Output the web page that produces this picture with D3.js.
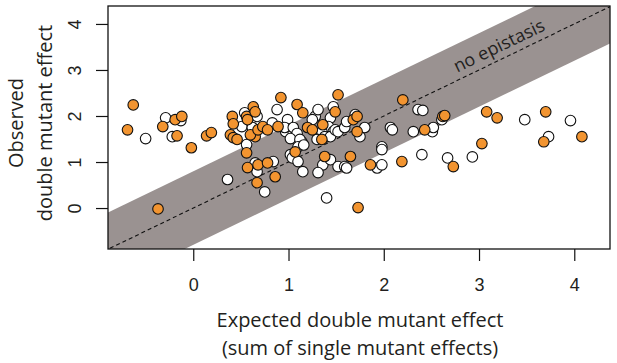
<!DOCTYPE html>
<html>
<head>
<meta charset="utf-8">
<script src="https://cdn.jsdelivr.net/npm/d3@7"></script>
<style>
  body { margin: 0; background: #fff; }
  text { font-family: "Open Sans", "Noto Sans", sans-serif; fill: #231f20; }
  text.tick-label { font-family: "Liberation Sans", Arial, sans-serif; font-size: 18px; }
</style>
</head>
<body>
<script>
// orange points: [expected, observed]
const orangePts = [
  [-0.63, 2.24], [-0.69, 1.70], [-0.32, 1.77], [-0.19, 1.92], [-0.12, 1.99],
  [-0.17, 1.57], [-0.02, 1.31], [0.14, 1.57], [0.19, 1.64], [-0.37, -0.02],
  [0.41, 1.99], [0.42, 1.83], [0.39, 1.59], [0.42, 1.53], [0.46, 1.49],
  [0.56, 1.99], [0.57, 1.92], [0.63, 2.20], [0.65, 2.09], [0.65, 1.55],
  [0.60, 1.59], [0.68, 1.70], [0.73, 1.77], [0.78, 1.70], [0.89, 1.77],
  [0.92, 2.40], [1.09, 2.25], [1.15, 2.07], [1.20, 1.75], [1.25, 1.70],
  [1.36, 1.81], [1.52, 2.46], [1.49, 2.09], [1.35, 1.49], [1.68, 1.92],
  [1.72, 1.99], [1.72, 1.66], [2.20, 2.35], [2.43, 1.70], [2.62, 1.99],
  [2.64, 2.01], [3.08, 2.09], [3.19, 1.96], [3.70, 2.09], [4.08, 1.55],
  [3.68, 1.44], [3.03, 1.40], [2.73, 0.90], [2.19, 1.01], [1.86, 0.94],
  [1.65, 1.12], [1.38, 1.12], [1.07, 1.22], [0.56, 1.20], [0.57, 0.88],
  [0.68, 0.94], [0.78, 0.98], [0.86, 0.68], [0.67, 0.55], [1.73, 0.01]
];

// white points: [expected, observed]
const whitePts = [
  [-0.50, 1.51], [-0.29, 1.96], [-0.13, 1.90], [-0.22, 1.55], [0.51, 1.77],
  [0.54, 2.07], [0.67, 1.99], [0.62, 1.75], [0.56, 1.38], [0.83, 1.85],
  [0.88, 2.14], [0.99, 1.92], [0.97, 1.66], [1.05, 1.64], [1.09, 1.49],
  [1.14, 1.44], [1.28, 1.99], [1.31, 2.14], [1.25, 1.92], [1.47, 2.20],
  [1.44, 1.96], [1.42, 1.77], [1.47, 1.66], [1.40, 1.55], [1.35, 1.55],
  [0.96, 1.75], [1.05, 1.75], [1.09, 1.62], [1.02, 1.51], [1.12, 1.49],
  [1.10, 1.33], [1.16, 1.37], [1.35, 1.66], [1.38, 1.55], [1.44, 1.55],
  [1.49, 1.70], [1.52, 1.66], [1.59, 1.75], [1.30, 1.49], [1.02, 1.16],
  [1.04, 1.09], [1.10, 1.01], [1.36, 0.94], [1.44, 1.05], [1.52, 0.90],
  [1.59, 0.90], [1.31, 0.77], [1.15, 0.79], [1.40, 0.22], [0.65, 0.98],
  [0.67, 0.79], [0.84, 1.01], [0.75, 0.35], [0.36, 0.62], [1.70, 2.03],
  [1.61, 1.88], [1.75, 1.55], [1.80, 1.75], [2.07, 1.75], [2.09, 1.70],
  [2.31, 1.66], [2.51, 1.66], [2.52, 1.75], [2.36, 2.14], [2.41, 2.12],
  [2.61, 1.92], [1.98, 1.33], [1.98, 1.27], [1.93, 0.87], [1.98, 0.94],
  [2.40, 1.16], [2.67, 1.09], [2.93, 1.11], [3.48, 1.92], [3.96, 1.90],
  [3.73, 1.55], [1.61, 0.87]
];

const xTicks = [0, 1, 2, 3, 4];
const yTicks = [0, 1, 2, 3, 4];
const bandHalf = 0.8;

const width = 617, height = 363;
const margin = { top: 6, right: 7, bottom: 114, left: 108 };

const svg = d3.select('body').append('svg')
  .attr('width', width)
  .attr('height', height);

const x = d3.scaleLinear()
  .domain([-0.895, 4.375])
  .range([margin.left, width - margin.right]);

const y = d3.scaleLinear()
  .domain([-0.89, 4.39])
  .range([height - margin.bottom, margin.top]);

svg.append('clipPath').attr('id', 'plot-clip')
  .append('rect')
  .attr('x', margin.left)
  .attr('y', margin.top)
  .attr('width', x.range()[1] - x.range()[0])
  .attr('height', y.range()[0] - y.range()[1]);

const plot = svg.append('g').attr('clip-path', 'url(#plot-clip)');

// grey band of +/- bandHalf around y = x
const [x0, x1] = [-2, 6];
const band = [
  [x0, x0 + bandHalf], [x1, x1 + bandHalf],
  [x1, x1 - bandHalf], [x0, x0 - bandHalf]
];
plot.append('path')
  .attr('d', d3.line().x(d => x(d[0])).y(d => y(d[1]))(band) + 'Z')
  .attr('fill', '#9a9291');

plot.append('line')
  .attr('x1', x(x0)).attr('y1', y(x0))
  .attr('x2', x(x1)).attr('y2', y(x1))
  .attr('stroke', '#111')
  .attr('stroke-width', 1.1)
  .attr('stroke-dasharray', '4,3');

// label along the diagonal
const angle = Math.atan2(y(0) - y(1), x(1) - x(0)) * 180 / Math.PI;
svg.append('text')
  .attr('transform', `translate(${x(3.27)},${y(3.27)}) rotate(${-angle})`)
  .attr('dy', -7)
  .attr('text-anchor', 'middle')
  .style('font-size', '18px')
  .text('no epistasis');

// points: whites first, oranges on top
const allPts = whitePts.map(d => ({ v: d, c: '#fff' }))
  .concat(orangePts.map(d => ({ v: d, c: '#f29430' })));

plot.selectAll('circle')
  .data(allPts)
  .enter()
  .append('circle')
  .attr('cx', d => x(d.v[0]))
  .attr('cy', d => y(d.v[1]))
  .attr('r', 5.3)
  .attr('fill', d => d.c)
  .attr('stroke', '#111')
  .attr('stroke-width', 1.1);

// frame
svg.append('rect')
  .attr('x', margin.left)
  .attr('y', margin.top)
  .attr('width', x.range()[1] - x.range()[0])
  .attr('height', y.range()[0] - y.range()[1])
  .attr('fill', 'none')
  .attr('stroke', '#111')
  .attr('stroke-width', 1.3);

// x axis
const xAxis = svg.append('g')
  .attr('transform', `translate(0,${y.range()[0]})`)
  .call(d3.axisBottom(x).tickValues(xTicks).tickSize(12).tickPadding(17).tickFormat(d3.format('d')));
xAxis.select('.domain').remove();
xAxis.selectAll('.tick line').attr('stroke', '#111').attr('stroke-width', 1.2);
xAxis.selectAll('.tick text')
  .attr('class', 'tick-label')
  .attr('fill', '#231f20');

// y axis
const yAxis = svg.append('g')
  .attr('transform', `translate(${margin.left},0)`)
  .call(d3.axisLeft(y).tickValues(yTicks).tickSize(12).tickPadding(0).tickFormat(d3.format('d')));
yAxis.select('.domain').remove();
yAxis.selectAll('.tick line').attr('stroke', '#111').attr('stroke-width', 1.2);
yAxis.selectAll('.tick text')
  .attr('class', 'tick-label')
  .attr('fill', '#231f20')
  .attr('x', null)
  .attr('dy', null)
  .attr('text-anchor', 'middle')
  .attr('transform', 'translate(-33,0) rotate(-90)')
  .attr('dominant-baseline', 'central');

// axis titles
const xMid = 360;
svg.append('text')
  .attr('x', xMid).attr('y', 327)
  .attr('text-anchor', 'middle')
  .style('font-size', '20px')
  .text('Expected double mutant effect');
svg.append('text')
  .attr('x', xMid).attr('y', 355)
  .attr('text-anchor', 'middle')
  .style('font-size', '20px')
  .text('(sum of single mutant effects)');

const yMid = 123;
svg.append('text')
  .attr('transform', `translate(23,${yMid}) rotate(-90)`)
  .attr('text-anchor', 'middle')
  .style('font-size', '20px')
  .text('Observed');
svg.append('text')
  .attr('transform', `translate(52,${yMid}) rotate(-90)`)
  .attr('text-anchor', 'middle')
  .style('font-size', '20px')
  .text('double mutant effect');
</script>
</body>
</html>
